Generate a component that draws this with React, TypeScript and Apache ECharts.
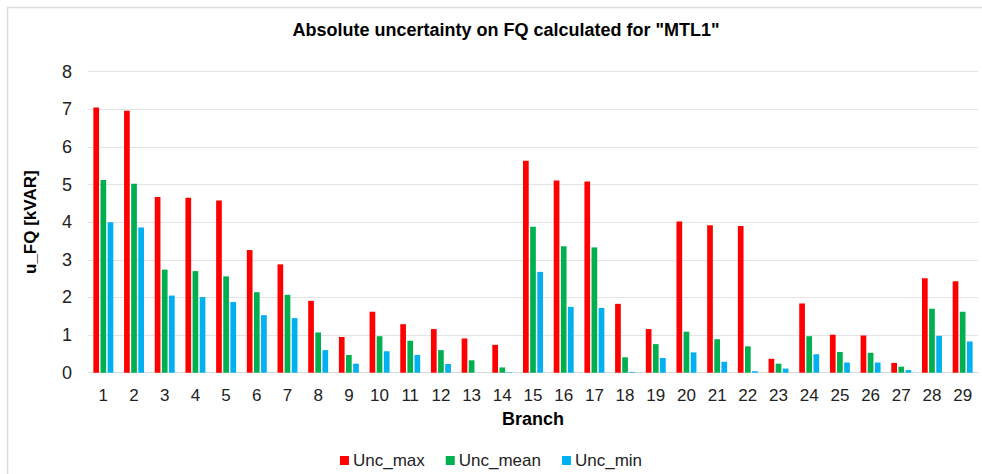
import React, { useEffect, useRef } from "react";
import * as echarts from "echarts";

const categories = ["1","2","3","4","5","6","7","8","9","10","11","12","13","14","15","16","17","18","19","20","21","22","23","24","25","26","27","28","29"];
const uncMax = [7.05,6.96,4.67,4.65,4.58,3.26,2.88,1.91,0.95,1.62,1.29,1.16,0.91,0.74,5.63,5.11,5.08,1.83,1.16,4.02,3.92,3.9,0.37,1.84,1.01,0.99,0.26,2.51,2.43];
const uncMean = [5.12,5.02,2.74,2.7,2.56,2.14,2.07,1.07,0.47,0.97,0.85,0.6,0.33,0.14,3.88,3.36,3.33,0.41,0.76,1.09,0.89,0.7,0.24,0.97,0.55,0.53,0.16,1.7,1.62];
const uncMin = [4.0,3.86,2.05,2.01,1.88,1.53,1.45,0.6,0.24,0.57,0.47,0.23,0.0,0.01,2.68,1.75,1.72,0.02,0.39,0.54,0.29,0.04,0.11,0.49,0.27,0.27,0.07,0.98,0.83];
const seriesNames = ["Unc_max", "Unc_mean", "Unc_min"];
const colors = ["#ff0000", "#00b050", "#00b0f0"];

const FONT = "Liberation Sans, Arial, Helvetica, sans-serif";

export default function App() {
  const ref = useRef<HTMLDivElement>(null);
  useEffect(() => {
    document.body.style.margin = "0";
    const chart = echarts.init(ref.current!, null, { renderer: "svg" });
    const data = [uncMax, uncMean, uncMin];
    chart.setOption({
      animation: false,
      backgroundColor: "#ffffff",
      textStyle: { fontFamily: FONT },
      title: {
        text: 'Absolute uncertainty on FQ calculated for "MTL1"',
        left: 501,
        textAlign: "center",
        top: 16,
        textStyle: { fontFamily: FONT, fontSize: 18, fontWeight: "bold", color: "#000" },
      },
      graphic: [
        {
          type: "rect",
          shape: { x: 7.5, y: 7.5, width: 1000, height: 1000 },
          style: { fill: "none", stroke: "#dcdcdc", lineWidth: 1.5 },
          silent: true,
        },
      ],
      legend: {
        data: seriesNames,
        left: "center",
        top: 447,
        icon: "rect",
        itemWidth: 9,
        itemHeight: 9,
        itemGap: 21,
        textStyle: { fontFamily: FONT, fontSize: 17, color: "#222", padding: [0, 0, 0, -1] },
      },
      grid: { left: 88, right: 4, top: 71.7, bottom: 101.3, containLabel: false },
      xAxis: {
        type: "category",
        data: categories,
        name: "Branch",
        nameLocation: "middle",
        nameGap: 37,
        nameTextStyle: { fontFamily: FONT, fontSize: 18, fontWeight: "bold", color: "#000" },
        axisTick: { show: false },
        axisLine: { lineStyle: { color: "#d9d9d9", width: 1 } },
        axisLabel: { fontFamily: FONT, fontSize: 17, color: "#222", margin: 14, interval: 0 },
      },
      yAxis: {
        type: "value",
        min: 0,
        max: 8,
        interval: 1,
        name: "u_FQ [kVAR]",
        nameLocation: "middle",
        nameGap: 49,
        nameRotate: 90,
        nameTextStyle: { fontFamily: FONT, fontSize: 17, fontWeight: "bold", color: "#000" },
        axisLine: { show: false },
        axisTick: { show: false },
        splitLine: { lineStyle: { color: "#e4e4e4", width: 1 } },
        axisLabel: { fontFamily: FONT, fontSize: 18, color: "#222", margin: 16 },
      },
      series: seriesNames.map((name, i) => ({
        name,
        type: "bar",
        data: data[i],
        barWidth: 5.7,
        barGap: "25%",
        itemStyle: { color: colors[i] },
      })),
    });
    return () => chart.dispose();
  }, []);
  return <div ref={ref} style={{ width: 982, height: 474 }} />;
}
